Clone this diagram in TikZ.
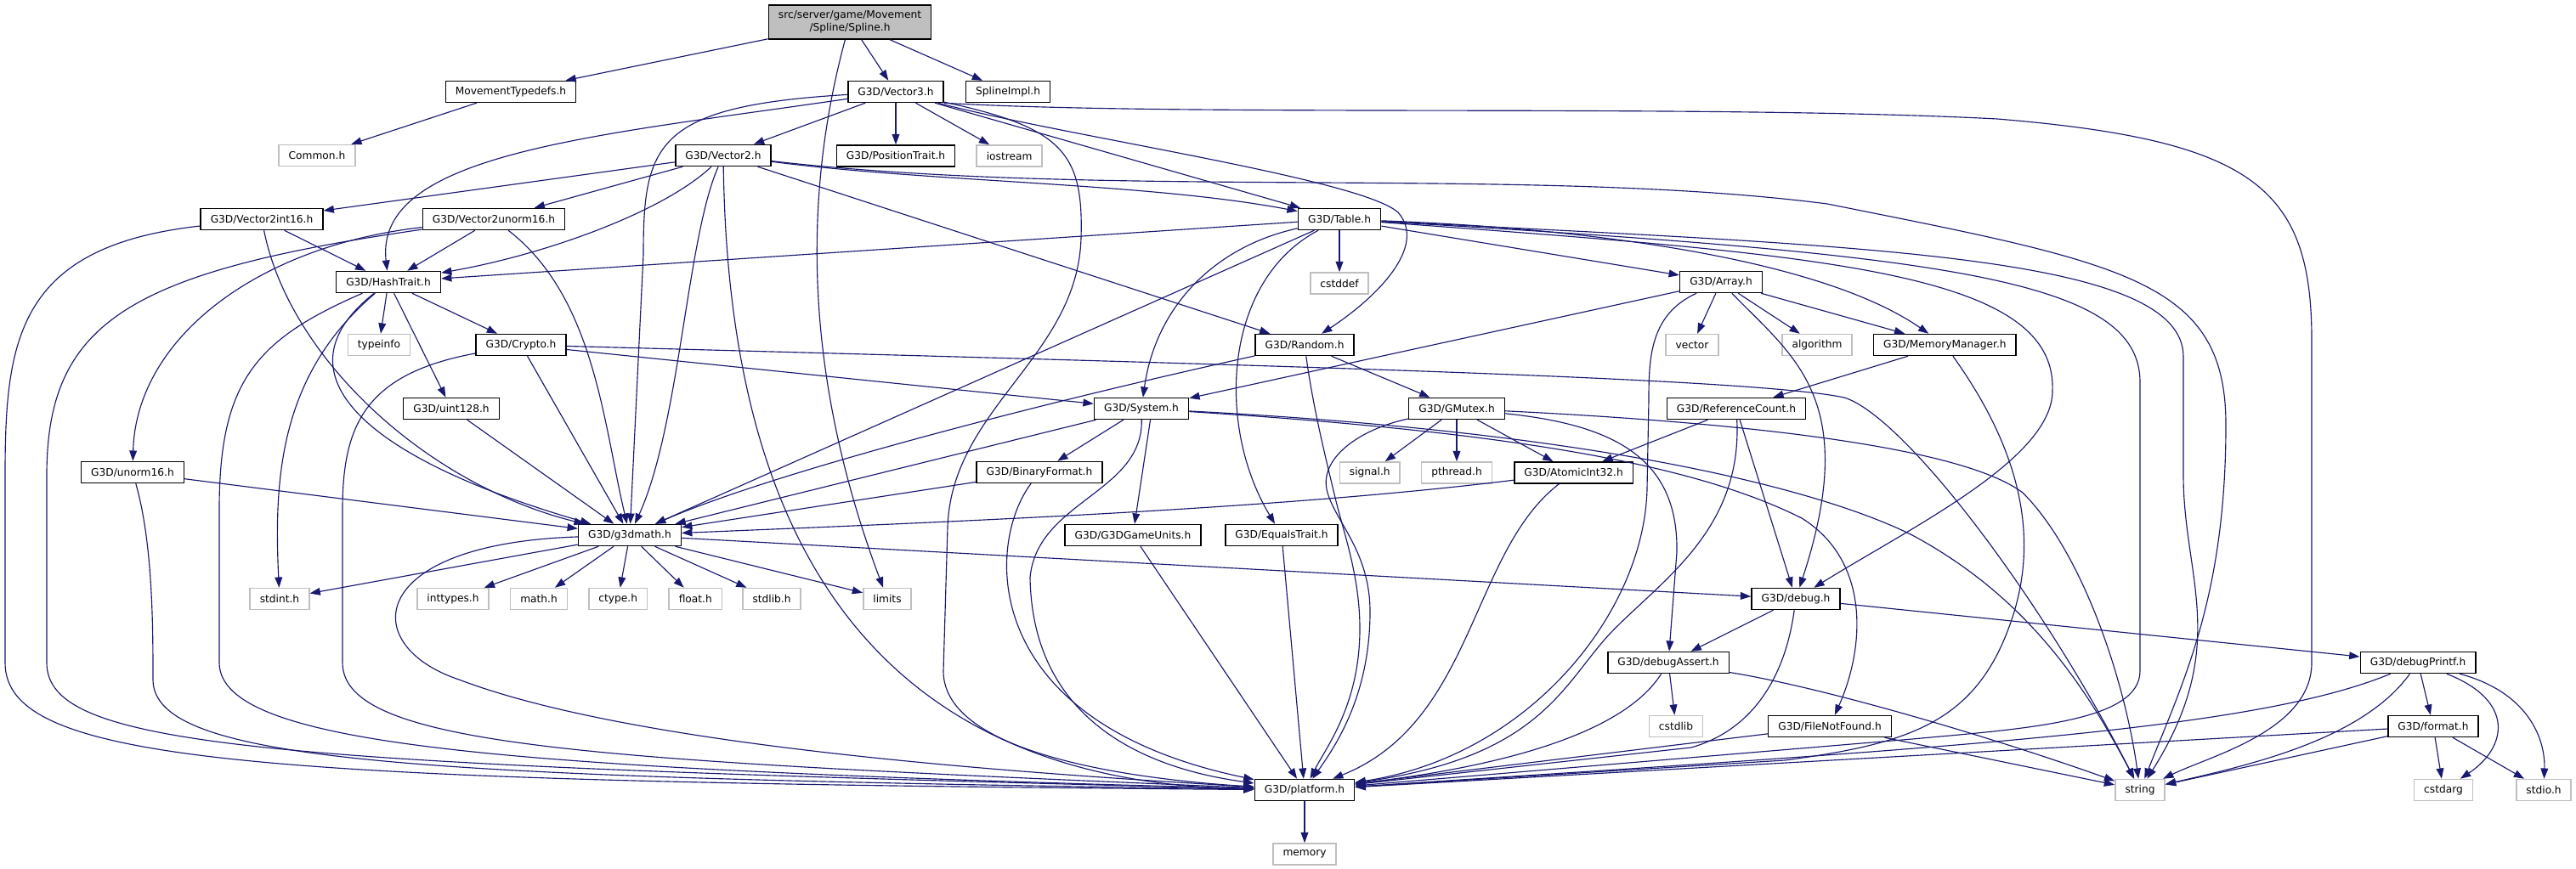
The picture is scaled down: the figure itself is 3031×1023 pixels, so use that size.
\documentclass[tikz,border=0pt]{standalone}
\usepackage{fontspec}
\setmainfont{DejaVu Sans}
\usetikzlibrary{arrows.meta,positioning}
\definecolor{edgeblue}{RGB}{25,25,112}
\definecolor{sysgray}{RGB}{191,191,191}

\begin{document}
\begin{tikzpicture}[x=0.02cm,y=-0.02cm,>={Triangle[length=7pt,width=5pt]}]
	\tikzstyle{block} = [draw, rectangle, line width=0.85pt, minimum height=0.5cm, inner xsep=6.6pt, inner ysep=0pt, font=\fontsize{6.95pt}{8.5pt}\selectfont]
	\tikzstyle{sys} = [block, draw=sysgray]
	\tikzstyle{root} = [block, fill=sysgray, align=center, minimum height=0.8cm]
	\tikzstyle{edge} = [->, draw=edgeblue, line width=0.65pt]
	
	\useasboundingbox (0,0) rectangle (3031,1023);
	
	\node [root] (spline) at (1000,26) {src/server/game/Movement\\/Spline/Spline.h};
	
	\node [block] (movtypes) at (601,108) {MovementTypedefs.h};
	\node [block] (vecthree) at (1054,108) {G3D/Vector3.h};
	\node [block, right = 0.5cm of vecthree] (splineimpl) {SplineImpl.h};
	
	\node [sys] (common) at (373,183) {Common.h};
	\node [block] (vectwo) at (851,183) {G3D/Vector2.h};
	\node [block, below = 0.98cm of vecthree] (postrait) {G3D/PositionTrait.h};
	\node [sys, right = 0.48cm of postrait] (iostream) {iostream};
	
	\node [block] (vecint) at (308,258) {G3D/Vector2int16.h};
	\node [block] (vecunorm) at (581,258) {G3D/Vector2unorm16.h};
	\node [block] (table) at (1576,258) {G3D/Table.h};
	
	\node [block] (hashtrait) at (457,332) {G3D/HashTrait.h};
	\node [sys, below = 0.98cm of table] (cstddef) {cstddef};
	\node [block] (array) at (2025,332) {G3D/Array.h};
	
	\node [sys] (typeinfo) at (446,406) {typeinfo};
	\node [block] (crypto) at (613,406) {G3D/Crypto.h};
	\node [block] (random) at (1535,406) {G3D/Random.h};
	\node [sys] (vector) at (1991,406) {vector};
	\node [sys] (algorithm) at (2138,406) {algorithm};
	\node [block, right = 0.48cm of algorithm] (memmgr) {G3D/MemoryManager.h};
	
	\node [block] (uint) at (531,481) {G3D/uint128.h};
	\node [block] (system) at (1343,481) {G3D/System.h};
	\node [block] (gmutex) at (1714,481) {G3D/GMutex.h};
	\node [block] (refcount) at (2043,481) {G3D/ReferenceCount.h};
	
	\node [block] (unorm) at (156,556) {G3D/unorm16.h};
	\node [block] (binfmt) at (1223,556) {G3D/BinaryFormat.h};
	\node [sys, below = 0.98cm of gmutex] (pthread) {pthread.h};
	\node [sys, left = 0.48cm of pthread] (signal) {signal.h};
	\node [block, right = 0.5cm of pthread] (atomic) {G3D/AtomicInt32.h};
	
	\node [block] (g3dmath) at (741,630) {G3D/g3dmath.h};
	\node [block] (gameunits) at (1333,630) {G3D/G3DGameUnits.h};
	\node [block] (equals) at (1508,630) {G3D/EqualsTrait.h};
	
	\node [sys] (stdint) at (329,705) {stdint.h};
	\node [sys] (inttypes) at (533,705) {inttypes.h};
	\node [sys, right = 0.48cm of inttypes] (mathh) {math.h};
	\node [sys, right = 0.48cm of mathh] (ctype) {ctype.h};
	\node [sys, right = 0.48cm of ctype] (floath) {float.h};
	\node [sys, right = 0.46cm of floath] (stdlib) {stdlib.h};
	\node [sys] (limits) at (1044,705) {limits};
	\node [block] (debug) at (2113,705) {G3D/debug.h};
	
	\node [block] (dbgassert) at (1963,780) {G3D/debugAssert.h};
	\node [block] (dbgprintf) at (2845,780) {G3D/debugPrintf.h};
	
	\node [sys] (cstdlib) at (1972,855) {cstdlib};
	\node [block] (filenotfound) at (2153,855) {G3D/FileNotFound.h};
	\node [block] (format) at (2863,855) {G3D/format.h};
	
	\node [block] (platform) at (1535,930) {G3D/platform.h};
	\node [sys] (string) at (2518,930) {string};
	\node [sys] (cstdarg) at (2875,930) {cstdarg};
	\node [sys] (stdio) at (2993,930) {stdio.h};
	
	\node [sys, below = 0.98cm of platform] (memory) {memory};
	
	\draw [edge] (spline) -- (movtypes);
	\draw [edge] (spline) -- (vecthree);
	\draw [edge] (spline) -- (splineimpl);
	\draw [edge] (spline) .. controls (945,230) and (945,440) .. (limits);
	\draw [edge] (movtypes) -- (common);
	
	\draw [edge] (vecthree) -- (vectwo);
	\draw [edge] (vecthree) -- (postrait);
	\draw [edge] (vecthree) -- (iostream);
	\draw [edge] (vecthree) -- (table);
	\draw [edge] (vecthree) .. controls (1250,160) and (1600,210) .. (1645,250) .. controls (1680,290) and (1620,350) .. (random);
	\draw [edge] (vecthree) .. controls (700,160) and (440,180) .. (hashtrait);
	\draw [edge] (vecthree) .. controls (770,125) and (757,170) .. (757,300) -- (g3dmath);
	\draw [edge] (vecthree) .. controls (1250,150) and (1275,180) .. (1272,280) .. controls (1268,420) and (1120,480) .. (1115,620) -- (1110,790) .. controls (1110,880) and (1300,915) .. (platform);
	\draw [edge] (vecthree.south east) .. controls (1400,138) and (2000,122) .. (2350,140) .. controls (2650,165) and (2720,220) .. (2720,400) -- (2720,780) .. controls (2720,860) and (2600,890) .. (string);
	
	\draw [edge] (vectwo) -- (vecint);
	\draw [edge] (vectwo) -- (vecunorm);
	\draw [edge] (vectwo) .. controls (780,250) and (640,300) .. (hashtrait);
	\draw [edge] (vectwo) .. controls (808,280) and (800,500) .. (g3dmath);
	\draw [edge] (vectwo) .. controls (857,600) and (1000,920) .. (platform);
	\draw [edge] (vectwo) .. controls (1100,215) and (1350,215) .. (table);
	\draw [edge] (vectwo) -- (random);
	\draw [edge] (vectwo) .. controls (1300,235) and (1800,195) .. (2150,240) .. controls (2500,310) and (2619,330) .. (2619,500) .. controls (2619,700) and (2570,800) .. (string);
	
	\draw [edge] (vecint) -- (hashtrait);
	\draw [edge] (vecint) .. controls (340,420) and (500,570) .. (g3dmath);
	\draw [edge] (vecint) .. controls (20,290) and (6,400) .. (6,560) -- (6,780) .. controls (6,900) and (300,920) .. (platform);
	
	\draw [edge] (vecunorm) -- (hashtrait);
	\draw [edge] (vecunorm) .. controls (300,290) and (160,400) .. (unorm);
	\draw [edge] (vecunorm) .. controls (150,320) and (55,380) .. (55,560) -- (55,780) .. controls (55,880) and (300,900) .. (platform);
	\draw [edge] (vecunorm) .. controls (700,350) and (710,500) .. (g3dmath);
	
	\draw [edge] (hashtrait) -- (typeinfo);
	\draw [edge] (hashtrait) -- (crypto);
	\draw [edge] (hashtrait) -- (uint);
	\draw [edge] (hashtrait) .. controls (330,440) and (322,560) .. (stdint);
	\draw [edge] (hashtrait) .. controls (300,400) and (258,450) .. (258,600) -- (258,780) .. controls (258,880) and (600,905) .. (platform);
	\draw [edge] (hashtrait) .. controls (320,440) and (430,540) .. (g3dmath);
	
	\draw [edge] (crypto) -- (g3dmath);
	\draw [edge] (crypto) .. controls (430,440) and (403,500) .. (403,600) -- (403,780) .. controls (403,880) and (700,895) .. (platform);
	\draw [edge] (crypto) -- (system);
	\draw [edge] (crypto) .. controls (1500,430) and (2060,445) .. (2170,468) .. controls (2240,490) and (2400,700) .. (string);
	
	\draw [edge] (uint) -- (g3dmath);
	\draw [edge] (unorm) -- (g3dmath);
	\draw [edge] (unorm) .. controls (180,640) and (180,740) .. (180,800) .. controls (180,900) and (500,915) .. (platform);
	
	\draw [edge] (table) -- (hashtrait);
	\draw [edge] (table) -- (g3dmath);
	\draw [edge] (table) .. controls (1430,290) and (1360,360) .. (system);
	\draw [edge] (table) .. controls (1440,330) and (1430,500) .. (equals);
	\draw [edge] (table) -- (cstddef);
	\draw [edge] (table) -- (array);
	\draw [edge] (table) .. controls (1900,270) and (2150,310) .. (memmgr);
	\draw [edge] (table) .. controls (2150,300) and (2420,320) .. (2415,460) .. controls (2415,540) and (2250,620) .. (debug);
	\draw [edge] (table) .. controls (2300,300) and (2518,330) .. (2518,450) -- (2518,790) .. controls (2518,850) and (2380,858) .. (2250,870) -- (platform);
	\draw [edge] (table) .. controls (2200,290) and (2569,300) .. (2569,420) -- (2569,560) .. controls (2569,680) and (2625,760) .. (string);
	
	\draw [edge] (array) -- (system);
	\draw [edge] (array) -- (vector);
	\draw [edge] (array) -- (algorithm);
	\draw [edge] (array) -- (memmgr);
	\draw [edge] (array) .. controls (2110,420) and (2190,470) .. (debug);
	\draw [edge] (array) .. controls (1942,370) and (1940,420) .. (1940,470) -- (1938,575) .. controls (1935,720) and (1800,890) .. (platform);
	
	\draw [edge] (memmgr) -- (refcount);
	\draw [edge] (memmgr) .. controls (2370,520) and (2400,620) .. (2370,720) .. controls (2330,850) and (2250,875) .. (2100,895) -- (platform);
	
	\draw [edge] (refcount) -- (atomic);
	\draw [edge] (refcount) -- (debug);
	\draw [edge] (refcount) .. controls (2050,620) and (1960,680) .. (1900,740) .. controls (1840,800) and (1820,890) .. (platform);
	
	\draw [edge] (random) -- (gmutex);
	\draw [edge] (random) .. controls (1200,480) and (900,560) .. (g3dmath);
	\draw [edge] (random) .. controls (1545,480) and (1560,540) .. (1572,590) .. controls (1582,630) and (1600,680) .. (1600,740) .. controls (1600,830) and (1560,880) .. (platform);
	
	\draw [edge] (gmutex) -- (signal);
	\draw [edge] (gmutex) -- (pthread);
	\draw [edge] (gmutex) -- (atomic);
	\draw [edge] (gmutex) .. controls (1900,500) and (1975,540) .. (1973,650) -- (dbgassert);
	\draw [edge] (gmutex) .. controls (1600,505) and (1550,540) .. (1562,580) .. controls (1572,615) and (1612,650) .. (1612,720) .. controls (1612,820) and (1570,880) .. (platform);
	\draw [edge] (gmutex) .. controls (2000,495) and (2300,520) .. (2380,580) .. controls (2450,650) and (2500,800) .. (string);
	
	\draw [edge] (system) -- (g3dmath);
	\draw [edge] (system) -- (binfmt);
	\draw [edge] ([xshift=6pt]system.south) -- (gameunits);
	\draw [edge] (system) .. controls (1345,580) and (1220,590) .. (1212,680) .. controls (1215,850) and (1350,905) .. (platform);
	\draw [edge] (system) .. controls (1800,510) and (2000,550) .. (2120,610) .. controls (2200,660) and (2195,760) .. (filenotfound);
	\draw [edge] (system) .. controls (1900,510) and (2150,580) .. (2250,630) .. controls (2380,700) and (2450,800) .. (string);
	
	\draw [edge] (binfmt) -- (g3dmath);
	\draw [edge] (binfmt) .. controls (1160,640) and (1150,850) .. (platform);
	\draw [edge] (atomic) .. controls (1500,600) and (1100,615) .. (g3dmath);
	\draw [edge] (atomic) .. controls (1730,650) and (1735,850) .. (platform);
	\draw [edge] (gameunits) -- (platform);
	\draw [edge] (equals) -- (platform);
	
	\draw [edge] (g3dmath) -- (stdint);
	\draw [edge] (g3dmath) -- (inttypes);
	\draw [edge] (g3dmath) -- (mathh);
	\draw [edge] (g3dmath) -- (ctype);
	\draw [edge] (g3dmath) -- (floath);
	\draw [edge] (g3dmath) -- (stdlib);
	\draw [edge] (g3dmath) -- (limits);
	\draw [edge] (g3dmath) -- (debug);
	\draw [edge] (g3dmath) .. controls (430,640) and (420,760) .. (540,800) .. controls (750,880) and (1200,910) .. (platform);
	
	\draw [edge] (debug) -- (dbgassert);
	\draw [edge] (debug) .. controls (2100,800) and (2060,860) .. (1990,880) -- (platform);
	\draw [edge] (debug) -- (dbgprintf);
	
	\draw [edge] (dbgassert) -- (cstdlib);
	\draw [edge] (dbgassert) .. controls (1900,880) and (1700,910) .. (platform);
	\draw [edge] (dbgassert) .. controls (2150,810) and (2350,870) .. (string);
	
	\draw [edge] (filenotfound) -- (platform);
	\draw [edge] (filenotfound) -- (string);
	
	\draw [edge] (dbgprintf) .. controls (2650,860) and (2300,880) .. (platform);
	\draw [edge] (dbgprintf) .. controls (2780,870) and (2650,900) .. (string);
	\draw [edge] (dbgprintf) -- (format);
	\draw [edge] (dbgprintf) .. controls (2960,825) and (2950,880) .. (cstdarg);
	\draw [edge] (dbgprintf) .. controls (2975,815) and (2995,870) .. (stdio);
	
	\draw [edge] (format) -- (platform);
	\draw [edge] (format) -- (string);
	\draw [edge] (format) -- (cstdarg);
	\draw [edge] (format) -- (stdio);
	
	\draw [edge] (platform) -- (memory);
\end{tikzpicture}
\end{document}
